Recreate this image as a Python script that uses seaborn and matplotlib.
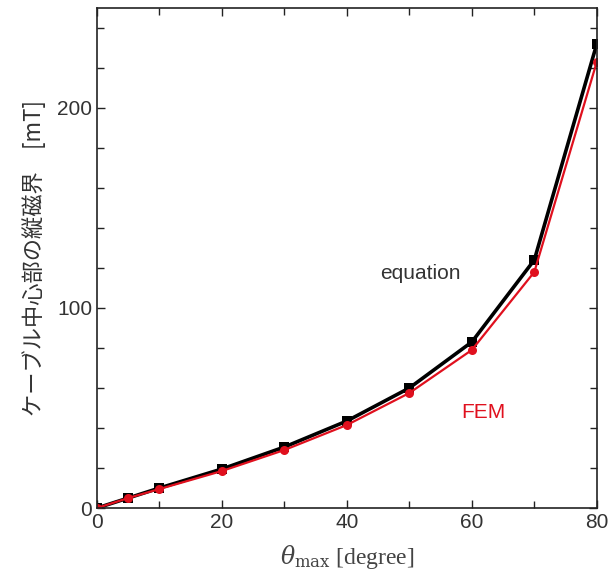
import matplotlib
matplotlib.use("Agg")
import matplotlib.pyplot as plt
from matplotlib.ticker import MultipleLocator
import seaborn as sns
import pandas as pd

theta = [0, 5, 10, 20, 30, 40, 50, 60, 70, 80]
equation = [0, 5, 10, 19.5, 30.5, 43.5, 60, 83, 124, 232]
fem = [0, 5, 9.5, 18.5, 29, 41.5, 57.5, 79, 118, 223]
series_names = ["equation", "FEM"]

df = pd.DataFrame({
    "theta": theta * 2,
    "B": equation + fem,
    "series": [series_names[0]] * len(theta) + [series_names[1]] * len(theta),
})

sns.set_style("ticks")
plt.rcParams["font.family"] = ["Liberation Sans", "Noto Sans CJK JP", "DejaVu Sans"]
plt.rcParams["mathtext.fontset"] = "dejavuserif"

fig = plt.figure(figsize=(6.14, 5.85), dpi=100)
ax = fig.add_axes([0.158, 0.1316, 0.814, 0.855])

palette = {"equation": "#000000", "FEM": "#e0101e"}
markers = {"equation": "s", "FEM": "o"}
widths = {"equation": 2.6, "FEM": 1.6}
msizes = {"equation": 7.5, "FEM": 6.5}

for name in series_names:
    sub = df[df["series"] == name]
    sns.lineplot(data=sub, x="theta", y="B", ax=ax, color=palette[name],
                 marker=markers[name], markersize=msizes[name],
                 markeredgewidth=0, linewidth=widths[name], legend=False)

ax.set_xlim(0, 80)
ax.set_ylim(0, 250)
ax.xaxis.set_major_locator(MultipleLocator(20))
ax.xaxis.set_minor_locator(MultipleLocator(10))
ax.yaxis.set_major_locator(MultipleLocator(100))
ax.yaxis.set_minor_locator(MultipleLocator(20))
ax.tick_params(which="both", direction="in", top=True, right=True,
               labelsize=15, colors="#222222", labelcolor="#333333")
ax.tick_params(which="major", length=6, width=1)
ax.tick_params(which="minor", length=5, width=1)
for s in ax.spines.values():
    s.set_linewidth(1.2)
    s.set_color("#222222")

ax.set_xlabel(r"$\theta_{\mathrm{max}}$ [degree]", fontsize=17,
              family=["Liberation Serif", "DejaVu Serif"], color="#444444", labelpad=8)
ax.set_ylabel("ケーブル中心部の縦磁界\u3000[mT]", fontsize=16,
              family=["Noto Sans CJK JP", "DejaVu Sans"], color="#333333", labelpad=8)

ax.text(51.8, 117, "equation", fontsize=15, color="#333333", ha="center", va="center",
        family=["Liberation Sans", "DejaVu Sans"])
ax.text(61.9, 47.5, "FEM", fontsize=15, color="#e0101e", ha="center", va="center",
        family=["Liberation Sans", "DejaVu Sans"])

fig.savefig("out.png", dpi=100)
